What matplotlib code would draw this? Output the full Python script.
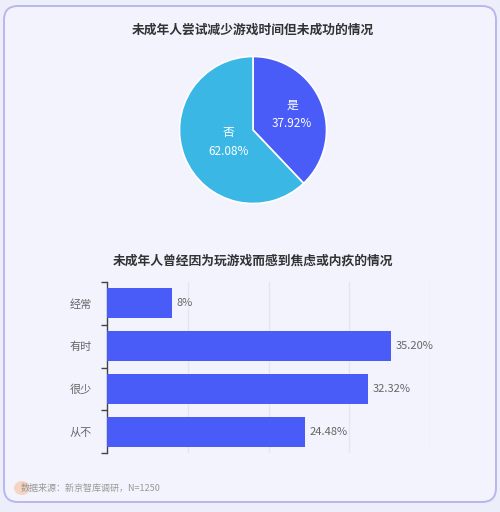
import matplotlib.pyplot as plt
from matplotlib.patches import FancyBboxPatch, Ellipse

plt.rcParams['font.family'] = ['Noto Sans CJK SC', 'DejaVu Sans']

# data
pie_labels = ['是', '否']
pie_values = [37.92, 62.08]
pie_colors = ['#4a5cf7', '#3bb7e6']

bar_labels = ['经常', '有时', '很少', '从不']
bar_values = [8, 35.20, 32.32, 24.48]
bar_texts = ['8%', '35.20%', '32.32%', '24.48%']

W, H = 500, 512
fig = plt.figure(figsize=(W / 100, H / 100), dpi=100)
fig.patch.set_facecolor('#eceef9')

# card background
bg = fig.add_axes([0, 0, 1, 1])
bg.set_xlim(0, W)
bg.set_ylim(H, 0)
bg.axis('off')
card = FancyBboxPatch((4, 6), 492, 496, boxstyle='round,pad=0,rounding_size=14',
                      facecolor='#f2f3fd', edgecolor='#b9b6ee', linewidth=1.4)
bg.add_patch(card)
bg.add_patch(Ellipse((22, 488), 16, 14, color='#f7c9a8', alpha=0.7, lw=0))

fig.text(253 / W, 1 - 30 / H, '未成年人尝试减少游戏时间但未成功的情况',
         ha='center', va='center', fontsize=9.2, fontweight='bold', color='#333333')
fig.text(253 / W, 1 - 261 / H, '未成年人曾经因为玩游戏而感到焦虑或内疚的情况',
         ha='center', va='center', fontsize=9.2, fontweight='bold', color='#333333')

# pie
cx, cy, r = 253, 130, 75
pax = fig.add_axes([(cx - r) / W, 1 - (cy + r) / H, 2 * r / W, 2 * r / H])
wedges, _ = pax.pie(pie_values, colors=pie_colors, startangle=90, counterclock=False,
                    wedgeprops=dict(edgecolor='white', linewidth=1.2))
pax.set_xlim(-1.02, 1.02)
pax.set_ylim(-1.02, 1.02)
pax.set_aspect('equal')
label_pos = [(293, 114), (228, 142)]
for lab, val, (lx, ly) in zip(pie_labels, pie_values, label_pos):
    pax.text((lx - cx) / r, (cy - ly) / r, f'{lab}\n{val:.2f}%', ha='center', va='center',
             fontsize=8.5, color='white', linespacing=1.6)

# bars
x0, x1 = 107, 430
y0, y1 = 282, 453
ax = fig.add_axes([x0 / W, 1 - y1 / H, (x1 - x0) / W, (y1 - y0) / H])
ax.set_facecolor('none')
ypos = list(range(len(bar_labels)))
ax.barh(ypos, bar_values, height=0.7, color='#4a5cf7', zorder=3)
ax.set_ylim(len(bar_labels) - 0.5, -0.5)
ax.set_xlim(0, 40)
ax.set_xticks([10, 20, 30, 40])
ax.grid(axis='x', color='#e3e5ef', linewidth=1)
ax.tick_params(axis='x', length=0, labelbottom=False)
ax.set_yticks(ypos)
ax.set_yticklabels(bar_labels, fontsize=8, color='#666666')
ax.tick_params(axis='y', length=0, pad=11)
ax.set_yticks([i - 0.5 for i in range(len(bar_labels) + 1)], minor=True)
ax.tick_params(axis='y', which='minor', length=4, color='#444444', width=1)
for s in ['top', 'right', 'bottom']:
    ax.spines[s].set_visible(False)
ax.spines['left'].set_color('#444444')
ax.spines['left'].set_linewidth(1)
for y, v, t in zip(ypos, bar_values, bar_texts):
    ax.text(v + 0.6, y, t, va='center', ha='left', fontsize=8, color='#666666')

fig.text(21 / W, 1 - 488 / H, '数据来源：新京智库调研，N=1250', ha='left', va='center',
         fontsize=6.5, color='#999999')

fig.savefig('out.png', dpi=100)
